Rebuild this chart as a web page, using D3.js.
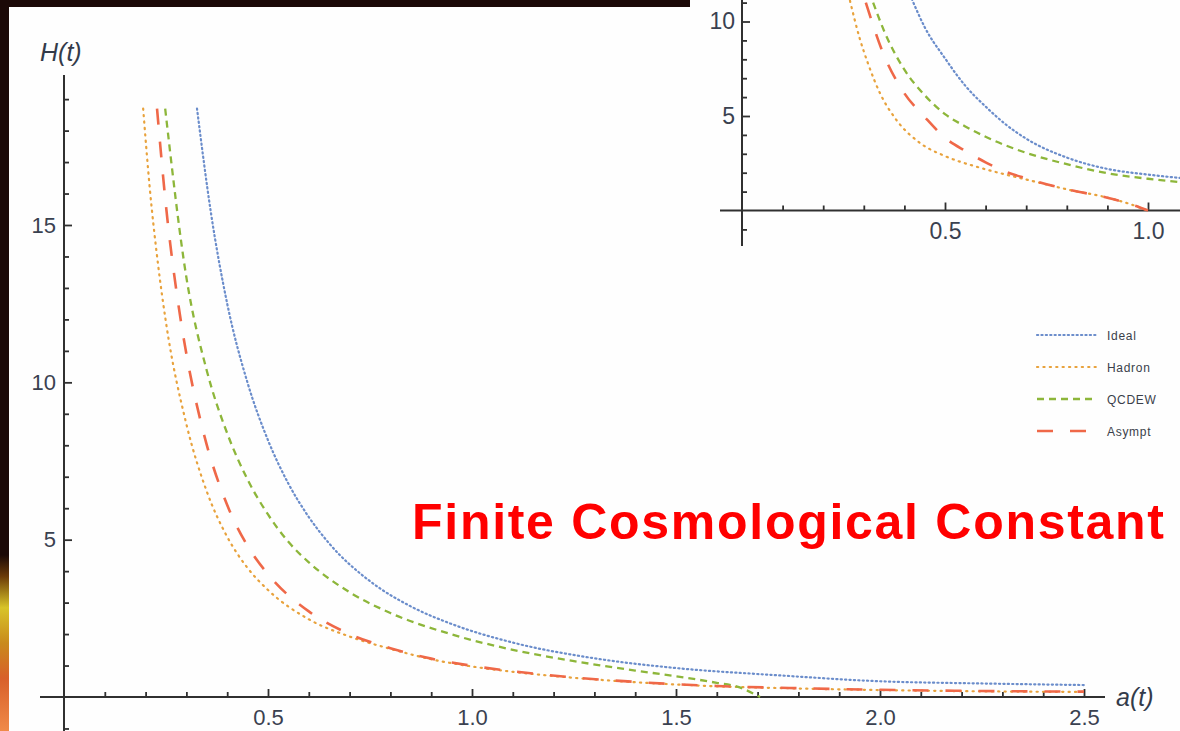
<!DOCTYPE html>
<html>
<head>
<meta charset="utf-8">
<script src="https://cdn.jsdelivr.net/npm/d3@7"></script>
<style>
  html, body { margin: 0; padding: 0; background: #1b0907; }
  svg { display: block; }
  text { font-family: "Liberation Sans", Arial, sans-serif; }
</style>
</head>
<body>
<svg id="chart" width="1180" height="731"></svg>
<script>
// ---- Hubble rate H(t) against scale factor a(t), finite cosmological constant ----
const seriesNames = ["Ideal", "Hadron", "QCDEW", "Asympt"];

const idealA  = [0.326, 0.36, 0.4, 0.45, 0.5, 0.55, 0.6, 0.65, 0.75, 0.85, 0.95, 1.1, 1.3, 1.5, 1.75, 2.0, 2.25, 2.5];
const idealH  = [18.7, 15.4, 12.5, 9.98, 8.16, 6.78, 5.72, 4.88, 3.68, 2.88, 2.32, 1.73, 1.23, 0.92, 0.69, 0.5, 0.43, 0.38];

const hadronA = [0.194, 0.21, 0.23, 0.25, 0.3, 0.35, 0.4, 0.45, 0.5, 0.6, 0.7, 0.8, 0.9, 1.0, 1.1, 1.25, 1.4, 1.6, 1.8, 2.0, 2.25, 2.5];
const hadronH = [18.7, 16.2, 13.8, 11.9, 8.67, 6.53, 5.09, 4.1, 3.4, 2.47, 1.92, 1.53, 1.2, 0.97, 0.8, 0.61, 0.47, 0.34, 0.27, 0.22, 0.18, 0.16];

const qcdewA  = [0.248, 0.3, 0.35, 0.4, 0.45, 0.5, 0.55, 0.6, 0.7, 0.8, 0.95, 1.1, 1.25, 1.4, 1.5, 1.6, 1.65, 1.706];
const qcdewH  = [18.7, 13.33, 10.37, 8.38, 6.91, 5.8, 4.93, 4.28, 3.33, 2.67, 1.99, 1.5, 1.14, 0.84, 0.66, 0.45, 0.33, 0.0];

const asymptA = [0.228, 0.25, 0.28, 0.3, 0.34, 0.4, 0.45, 0.5, 0.6, 0.7, 0.8, 0.9, 1.0, 1.1, 1.25, 1.4, 1.6, 1.8, 2.0, 2.25, 2.5];
const asymptH = [18.7, 15.6, 12.5, 10.9, 8.5, 6.1, 4.8, 3.9, 2.72, 2.0, 1.55, 1.22, 0.99, 0.82, 0.62, 0.48, 0.35, 0.28, 0.23, 0.19, 0.17];

// inset: same quantities, smaller window (a up to ~1.08)
const insetIdealA  = [0.418, 0.45, 0.5, 0.55, 0.6, 0.65, 0.7, 0.8, 0.9, 1.0, 1.08];
const insetIdealH  = [11.2, 9.7, 8.05, 6.6, 5.5, 4.55, 3.8, 2.8, 2.2, 1.9, 1.72];
const insetHadronA = [0.266, 0.29, 0.31, 0.34, 0.38, 0.44, 0.5, 0.58, 0.65, 0.7, 0.8, 0.9, 0.95, 1.0];
const insetHadronH = [11.1, 9.1, 7.8, 6.2, 4.8, 3.55, 2.88, 2.3, 1.9, 1.64, 1.12, 0.68, 0.38, 0.0];
const insetQcdewA  = [0.323, 0.35, 0.4, 0.45, 0.5, 0.55, 0.6, 0.7, 0.8, 0.9, 1.0, 1.08];
const insetQcdewH  = [11.0, 9.5, 7.45, 6.1, 5.1, 4.45, 3.9, 3.05, 2.45, 1.97, 1.68, 1.5];
const insetAsymptA = [0.305, 0.35, 0.4, 0.45, 0.5, 0.55, 0.6, 0.65, 0.7, 0.8, 0.9, 0.95, 1.0];
const insetAsymptH = [11.0, 8.2, 6.2, 4.95, 3.85, 3.15, 2.55, 2.05, 1.7, 1.12, 0.68, 0.38, 0.0];

const xMajor = [0.5, 1.0, 1.5, 2.0, 2.5];
const yMajor = [5, 10, 15];
const insetXMajor = [0.5, 1.0];
const insetYMajor = [5, 10];
const titleText = "Finite Cosmological Constant";

// ---- styling ----
const style = {
  Ideal:  { color: "#6b8dcb", width: 2.2, dash: "1.2,3.2", cap: "round" },
  Hadron: { color: "#e8a23c", width: 2.2, dash: "1.2,5.2", cap: "round" },
  QCDEW:  { color: "#8db63a", width: 2.3, dash: "7,5",     cap: "butt"  },
  Asympt: { color: "#ef6848", width: 2.6, dash: "16,17",   cap: "butt"  }
};
const axisColor = "#303030";
const labelColor = "#3a4150";

const zip = (a, h) => a.map((v, i) => [v, h[i]]);
const mainSeries = [
  { name: "Ideal",  pts: zip(idealA, idealH) },
  { name: "Hadron", pts: zip(hadronA, hadronH) },
  { name: "QCDEW",  pts: zip(qcdewA, qcdewH) },
  { name: "Asympt", pts: zip(asymptA, asymptH) }
];
const insetSeries = [
  { name: "Ideal",  pts: zip(insetIdealA, insetIdealH) },
  { name: "Hadron", pts: zip(insetHadronA, insetHadronH) },
  { name: "QCDEW",  pts: zip(insetQcdewA, insetQcdewH) },
  { name: "Asympt", pts: zip(insetAsymptA, insetAsymptH) }
];

const svg = d3.select("#chart");
const defs = svg.append("defs");

// dark backdrop with a warm glow in the lower-left corner
svg.append("rect").attr("width", 1180).attr("height", 731).attr("fill", "#1b0907");
const glow = defs.append("linearGradient").attr("id", "glow")
  .attr("x1", 0).attr("y1", 0).attr("x2", 0).attr("y2", 1);
[[0, "#1b0907"], [0.12, "#6a3a08"], [0.3, "#d8c428"], [0.5, "#c98a1c"],
 [0.7, "#d8602a"], [1, "#f08a48"]].forEach(([o, c]) =>
  glow.append("stop").attr("offset", o).attr("stop-color", c));
svg.append("rect").attr("x", 0).attr("y", 555).attr("width", 9).attr("height", 176)
  .attr("fill", "url(#glow)");

// white plot panel
svg.append("rect").attr("x", 9).attr("y", 7).attr("width", 1171).attr("height", 724)
  .attr("fill", "#fefefe");

// ---------------- main plot ----------------
const x = d3.scaleLinear().domain([0, 2.5]).range([64, 1084]);
const y = d3.scaleLinear().domain([0, 15]).range([697, 225]);

function drawAxes(g, xs, ys, opt) {
  // axis lines
  g.append("line").attr("x1", opt.xLineFrom).attr("x2", opt.xLineTo)
    .attr("y1", ys(0)).attr("y2", ys(0))
    .attr("stroke", axisColor).attr("stroke-width", 2);
  g.append("line").attr("x1", xs(0)).attr("x2", xs(0))
    .attr("y1", opt.yLineFrom).attr("y2", opt.yLineTo)
    .attr("stroke", axisColor).attr("stroke-width", 2);

  // x minor ticks (inside, pointing up)
  const xMinorAxis = d3.axisBottom(xs).tickValues(opt.xMinor).tickSize(-5).tickFormat("");
  const gxm = g.append("g").attr("transform", `translate(0,${ys(0)})`).call(xMinorAxis);
  // x major ticks with labels below
  const xMajorAxis = d3.axisBottom(xs).tickValues(opt.xMajor).tickSize(-8)
    .tickPadding(opt.xPad).tickFormat(d3.format(".1f"));
  const gxM = g.append("g").attr("transform", `translate(0,${ys(0)})`).call(xMajorAxis);

  // y minor ticks (pointing right)
  const yMinorAxis = d3.axisLeft(ys).tickValues(opt.yMinor).tickSize(-5).tickFormat("");
  const gym = g.append("g").attr("transform", `translate(${xs(0)},0)`).call(yMinorAxis);
  const yMajorAxis = d3.axisLeft(ys).tickValues(opt.yMajor).tickSize(-8)
    .tickPadding(opt.yPad).tickFormat(d3.format("d"));
  const gyM = g.append("g").attr("transform", `translate(${xs(0)},0)`).call(yMajorAxis);

  [gxm, gxM, gym, gyM].forEach(a => {
    a.select(".domain").remove();
    a.selectAll(".tick line").attr("stroke", axisColor).attr("stroke-width", 1.8);
    a.selectAll("text").attr("fill", labelColor)
      .style("font-family", "'Liberation Sans', Arial, sans-serif")
      .style("font-size", opt.fontSize + "px");
  });
}

const mainG = svg.append("g");
drawAxes(mainG, x, y, {
  xLineFrom: 40, xLineTo: 1105, yLineFrom: 75, yLineTo: 731,
  xMinor: d3.range(1, 26).map(i => i / 10).filter(v => !xMajor.includes(v)),
  xMajor: xMajor,
  yMinor: d3.range(-1, 20).filter(v => v !== 0 && !yMajor.includes(v)),
  yMajor: yMajor,
  xPad: 12, yPad: 8, fontSize: 22
});

const line = (xs, ys) => d3.line().x(d => xs(d[0])).y(d => ys(d[1])).curve(d3.curveMonotoneX);

function drawCurves(g, series, xs, ys) {
  g.selectAll("path.curve").data(series).enter().append("path")
    .attr("class", "curve")
    .attr("d", d => line(xs, ys)(d.pts))
    .attr("fill", "none")
    .attr("stroke", d => style[d.name].color)
    .attr("stroke-width", d => style[d.name].width)
    .attr("stroke-dasharray", d => style[d.name].dash)
    .attr("stroke-linecap", d => style[d.name].cap);
}
drawCurves(mainG, mainSeries, x, y);

// axis titles
svg.append("text").attr("x", 40).attr("y", 61)
  .attr("font-size", 25).attr("font-style", "italic").attr("fill", "#333b4a")
  .text("H(t)");
svg.append("text").attr("x", 1116).attr("y", 706)
  .attr("font-size", 25).attr("font-style", "italic").attr("fill", "#333b4a")
  .text("a(t)");

// legend
const legend = svg.append("g").attr("transform", "translate(1037,335)");
seriesNames.forEach((name, i) => {
  const row = legend.append("g").attr("transform", `translate(0,${i * 32})`);
  row.append("line").attr("x1", 0).attr("x2", 60).attr("y1", 0).attr("y2", 0)
    .attr("stroke", style[name].color).attr("stroke-width", style[name].width)
    .attr("stroke-dasharray", style[name].dash).attr("stroke-linecap", style[name].cap);
  row.append("text").attr("x", 70).attr("y", 4.5).attr("font-size", 12)
    .attr("letter-spacing", 0.7).attr("fill", "#3a3f4a").text(name);
});

// headline
svg.append("text").attr("x", 412).attr("y", 539)
  .attr("font-size", 50).attr("font-weight", "bold").attr("fill", "#ff0000")
  .attr("textLength", 752).attr("lengthAdjust", "spacing")
  .text(titleText);

// ---------------- inset ----------------
svg.append("rect").attr("x", 690).attr("y", 0).attr("width", 490).attr("height", 252)
  .attr("fill", "#fefefe");
defs.append("clipPath").attr("id", "insetClip").append("rect")
  .attr("x", 690).attr("y", 0).attr("width", 490).attr("height", 252);

const ix = d3.scaleLinear().domain([0, 1.0]).range([742, 1148]);
const iy = d3.scaleLinear().domain([0, 10]).range([210.5, 21.5]);
const insetG = svg.append("g").attr("clip-path", "url(#insetClip)");
drawAxes(insetG, ix, iy, {
  xLineFrom: 720, xLineTo: 1180, yLineFrom: 0, yLineTo: 246,
  xMinor: d3.range(1, 11).map(i => i / 10).filter(v => !insetXMajor.includes(v)),
  xMajor: insetXMajor,
  yMinor: d3.range(-1, 12).filter(v => v !== 0 && !insetYMajor.includes(v)),
  yMajor: insetYMajor,
  xPad: 12, yPad: 7, fontSize: 23
});
drawCurves(insetG, insetSeries, ix, iy);
</script>
</body>
</html>
